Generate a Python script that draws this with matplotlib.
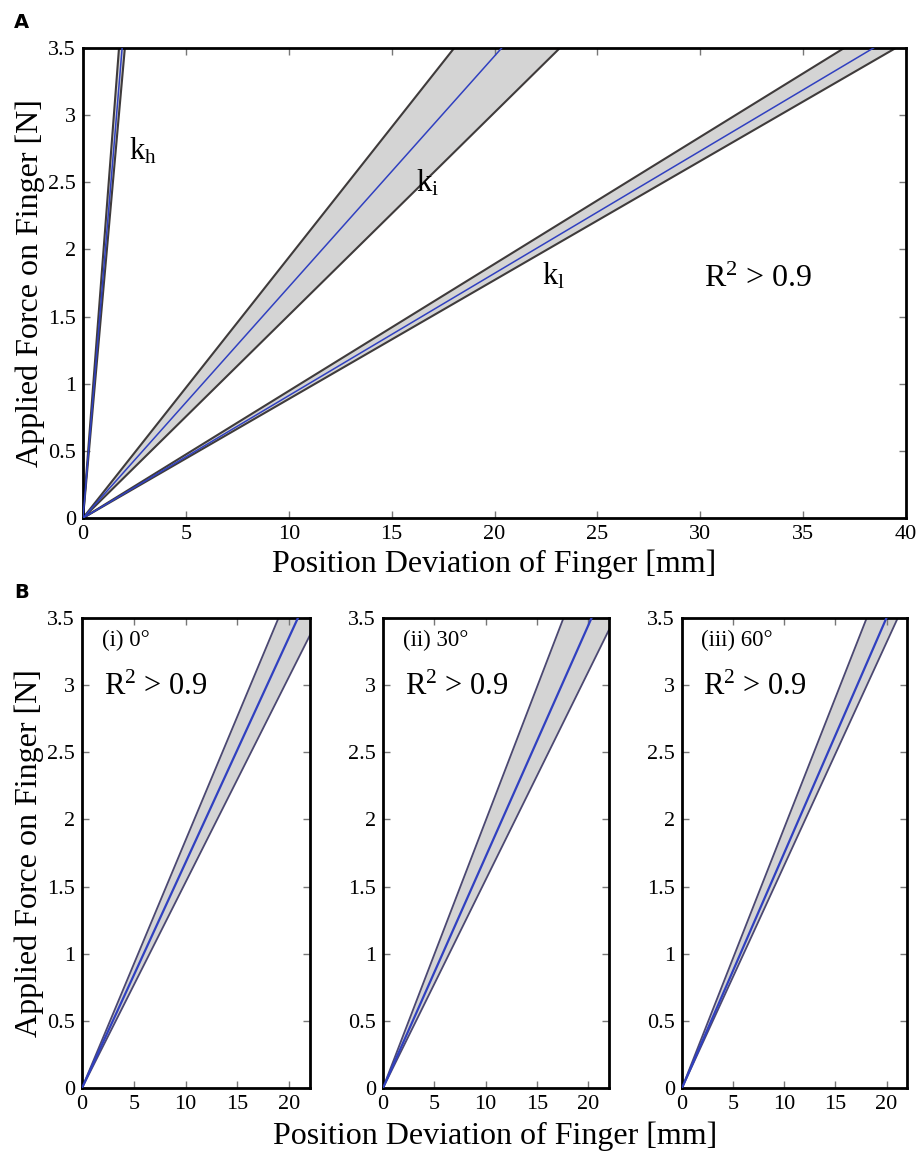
import numpy as np
import matplotlib
matplotlib.use("Agg")
import matplotlib.pyplot as plt

plt.rcParams['font.family'] = ['Liberation Serif', 'DejaVu Serif']
plt.rcParams['mathtext.fontset'] = 'custom'
plt.rcParams['mathtext.rm'] = 'Liberation Serif'
plt.rcParams['mathtext.it'] = 'Liberation Serif'

# ---- data (stiffness in N/mm: upper bound, fit, lower bound) ----
force_max = 3.5
groupsA = ['k_h', 'k_i', 'k_l']
kA_upper = [2.00, 0.194, 0.0946]
kA_fit = [1.84, 0.172, 0.0911]
kA_lower = [1.72, 0.151, 0.0886]

anglesB = ['(i) 0°', '(ii) 30°', '(iii) 60°']
kB_upper = [0.1846, 0.1992, 0.1938]
kB_fit = [0.1680, 0.1724, 0.1751]
kB_lower = [0.1533, 0.1551, 0.1659]

yticks = [0, 0.5, 1, 1.5, 2, 2.5, 3, 3.5]
ytick_labels = ['0', '0.5', '1', '1.5', '2', '2.5', '3', '3.5']
xticksA = [0, 5, 10, 15, 20, 25, 30, 35, 40]
xticksB = [0, 5, 10, 15, 20]

W, H = 919, 1163
fig = plt.figure(figsize=(W / 100, H / 100), dpi=100)

def box(l, t, r, b):
    return [l / W, 1 - b / H, (r - l) / W, (b - t) / H]

bound_col_A = '#3f3b3b'
bound_col_B = '#4b4872'
fill_col = '#d4d4d4'
fit_col = '#3040c0'

def style(ax, xmax, xticks):
    ax.set_xlim(0, xmax)
    ax.set_ylim(0, force_max)
    ax.set_yticks(yticks)
    ax.set_yticklabels(ytick_labels)
    ax.set_xticks(xticks)
    ax.set_xticklabels([str(v) for v in xticks])
    ax.tick_params(direction='in', top=True, right=True, length=5, width=1,
                   color='#777777', labelsize=16, pad=5)
    for s in ax.spines.values():
        s.set_linewidth(2.0)
        s.set_color('black')

def band(ax, ku, kf, kl, bcol, lwb, lwf):
    f = np.array([0.0, force_max])
    xu = f / ku
    xl = f / kl
    xf = f / kf
    ax.fill(np.r_[xu, xl[::-1]], np.r_[f, f[::-1]], color=fill_col, zorder=1, lw=0)
    ax.plot(xu, f, color=bcol, lw=lwb, zorder=2)
    ax.plot(xl, f, color=bcol, lw=lwb, zorder=2)
    ax.plot(xf, f, color=fit_col, lw=lwf, zorder=3)

LABEL_FS = 23
R2 = r'R$^{2}$ > 0.9'

# ---- Panel A ----
axA = fig.add_axes(box(83, 48, 906, 518))
for ku, kf, kl in zip(kA_upper, kA_fit, kA_lower):
    band(axA, ku, kf, kl, bound_col_A, 1.5, 1.1)
style(axA, 40, xticksA)
axA.set_xlabel('Position Deviation of Finger [mm]', fontsize=LABEL_FS, labelpad=4)
axA.set_ylabel('Applied Force on Finger [N]', fontsize=LABEL_FS, labelpad=2)
axA.text(2.25, 2.73, r'$\mathrm{k_h}$', fontsize=22, va='center', ha='left')
axA.text(16.2, 2.49, r'$\mathrm{k_i}$', fontsize=22, va='center', ha='left')
axA.text(22.3, 1.80, r'$\mathrm{k_l}$', fontsize=22, va='center', ha='left')
axA.text(30.2, 1.78, R2, fontsize=23, va='center', ha='left')

# ---- Panel B ----
boxesB = [(82, 618, 310, 1088), (383, 618, 609, 1088), (682, 618, 907, 1088)]
for i, (bx, lab) in enumerate(zip(boxesB, anglesB)):
    ax = fig.add_axes(box(*bx))
    band(ax, kB_upper[i], kB_fit[i], kB_lower[i], bound_col_B, 1.3, 1.6)
    style(ax, 22, xticksB)
    ax.text(1.9, 3.33, lab, fontsize=16.5, va='center', ha='left')
    ax.text(2.1, 2.98, R2, fontsize=22, va='center', ha='left')
    if i == 0:
        ax.set_ylabel('Applied Force on Finger [N]', fontsize=LABEL_FS, labelpad=2)

fig.text(495 / W, 1 - 1136 / H, 'Position Deviation of Finger [mm]', fontsize=LABEL_FS,
         ha='center', va='center')

fig.text(14 / W, 1 - 22 / H, 'A', fontsize=14, fontweight='bold', family='DejaVu Sans',
         ha='left', va='center')
fig.text(14 / W, 1 - 592 / H, 'B', fontsize=14, fontweight='bold', family='DejaVu Sans',
         ha='left', va='center')

fig.savefig('out.png', dpi=100)
